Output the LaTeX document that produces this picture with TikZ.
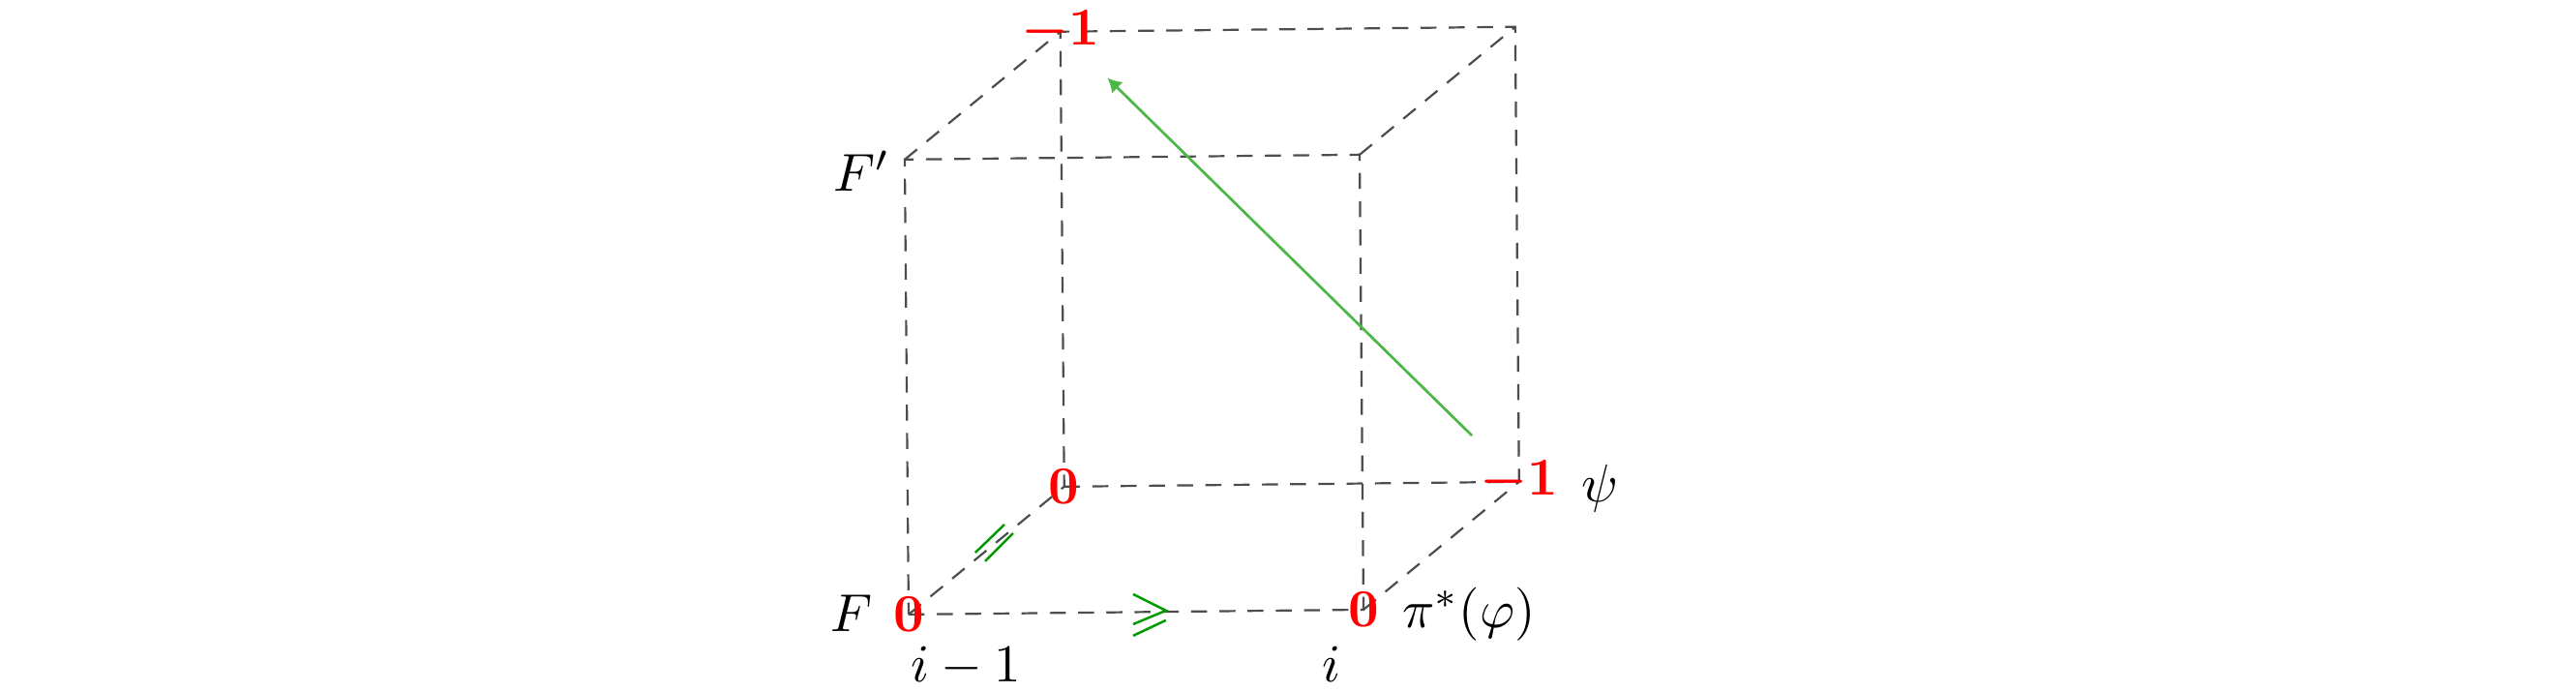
\documentclass[tikz,border=0pt]{standalone}
\usepackage{amsmath,amssymb}
\usetikzlibrary{arrows.meta,positioning}

\definecolor{edgegray}{RGB}{77,77,77}
\definecolor{tickgreen}{RGB}{0,153,0}
\definecolor{arrowgreen}{RGB}{77,184,72}

\begin{document}
\begin{tikzpicture}[
    x={(1cm,0.0106cm)}, y={(-0.0085cm,1cm)}, z={(0.342cm,0.281cm)},
    cubeedge/.style={draw=edgegray, dash pattern=on 3pt off 2.3pt},
    num/.style={text=red, inner sep=0pt},
    lbl/.style={inner sep=0pt, anchor=base},
    tickmark/.style={draw=tickgreen, line width=0.45pt},
  ]
  \useasboundingbox (-5.992cm,-0.511cm) rectangle (10.996cm,4.052cm);

  % corners of the cube
  \coordinate (f-bl) at (0,0,0);
  \coordinate (f-br) at (3,0,0);
  \coordinate (f-tl) at (0,3,0);
  \coordinate (f-tr) at (3,3,0);
  \coordinate (b-bl) at (0,0,3);
  \coordinate (b-br) at (3,0,3);
  \coordinate (b-tl) at (0,3,3);
  \coordinate (b-tr) at (3,3,3);

  \draw[cubeedge] (f-bl) -- (f-br) -- (f-tr) -- (f-tl) -- cycle;
  \draw[cubeedge] (b-bl) -- (b-br) -- (b-tr) -- (b-tl) -- cycle;
  \draw[cubeedge] (f-bl) -- (b-bl);
  \draw[cubeedge] (f-br) -- (b-br);
  \draw[cubeedge] (f-tl) -- (b-tl);
  \draw[cubeedge] (f-tr) -- (b-tr);

  \node[num] (n-f-bl) at (f-bl) {$\mathbf{0}$};
  \node[num] (n-f-br) at (f-br) {$\mathbf{0}$};
  \node[num] (n-b-bl) at (b-bl) {$\mathbf{0}$};
  \node[num] (n-b-br) at (b-br) {$\boldsymbol{-1}$};
  \node[num] (n-b-tl) at (b-tl) {$\boldsymbol{-1}$};

  \node[lbl] (l-F)   at (-0.377cm,-0.115cm) {$F$};
  \node[lbl] (l-Fp)  at (-0.306cm,2.789cm)  {$F'$};
  \node[lbl] (l-psi) at (4.557cm,0.740cm)   {$\psi$};
  \node[lbl] (l-phi) at (3.695cm,-0.089cm)  {$\pi^*(\varphi)$};
  \node[lbl] (l-i1)  at (0.377cm,-0.447cm)  {$i-1$};
  \node[lbl] (l-i)   at (2.789cm,-0.447cm)  {$i$};

  \draw[arrowgreen, line width=0.5pt, -{Latex[length=2.6pt,width=3pt]},
        shorten <=12.4pt, shorten >=12.4pt] (b-br) -- (b-tl);

  % marks on the two bottom edges
  \coordinate (m-bot) at (1.697cm,0.026cm);
  \draw[tickmark] ([shift={(-0.216cm,0.108cm)}]m-bot) -- (m-bot)
    -- ([shift={(-0.216cm,-0.09cm)}]m-bot);
  \draw[tickmark] ([shift={(-0.216cm,-0.166cm)}]m-bot)
    -- ([shift={(0cm,-0.064cm)}]m-bot);
  \coordinate (m-dep) at (0.566cm,0.472cm);
  \draw[tickmark] ([shift={(-0.126cm,-0.064cm)}]m-dep)
    -- ([shift={(0.066cm,0.121cm)}]m-dep);
  \draw[tickmark] ([shift={(-0.062cm,-0.121cm)}]m-dep)
    -- ([shift={(0.123cm,0.064cm)}]m-dep);
\end{tikzpicture}
\end{document}
